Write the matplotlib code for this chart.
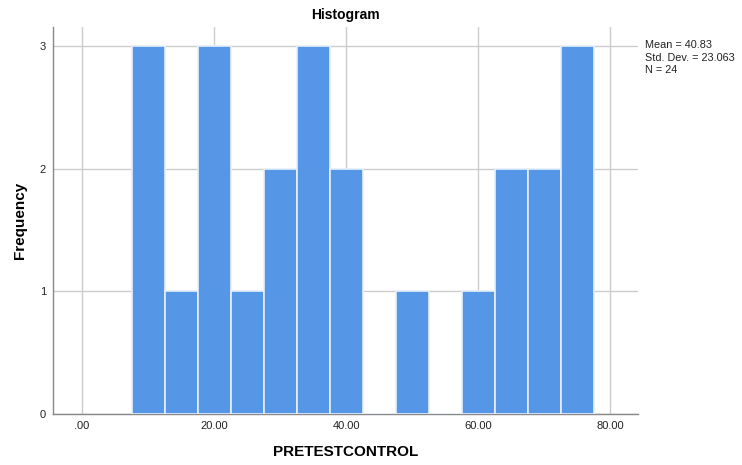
import matplotlib
matplotlib.use("Agg")
import matplotlib.pyplot as plt

plt.rcParams["font.family"] = ["Liberation Sans", "DejaVu Sans"]

# histogram bins (width 5) and counts
bin_edges = [7.5, 12.5, 17.5, 22.5, 27.5, 32.5, 37.5, 42.5,
             47.5, 52.5, 57.5, 62.5, 67.5, 72.5, 77.5]
counts = [3, 1, 3, 1, 2, 3, 2, 0, 1, 0, 1, 2, 2, 3]
x_ticks = [0, 20, 40, 60, 80]
x_tick_labels = [".00", "20.00", "40.00", "60.00", "80.00"]
y_ticks = [0, 1, 2, 3]
stats_text = "Mean = 40.83\nStd. Dev. = 23.063\nN = 24"

fig = plt.figure(figsize=(7.42, 4.65), dpi=100, facecolor="white")
ax = fig.add_axes([0.0714, 0.1097, 0.7884, 0.8323])

centers = [(a + b) / 2 for a, b in zip(bin_edges[:-1], bin_edges[1:])]
ax.hist(centers, bins=bin_edges, weights=counts, color="#5596e6",
        edgecolor="#e6f0fb", linewidth=1.2, zorder=3)

ax.set_xlim(-4.4, 84.2)
ax.set_ylim(0, 3.155)
ax.set_xticks(x_ticks)
ax.set_xticklabels(x_tick_labels)
ax.set_yticks(y_ticks)

ax.grid(True, color="#cccccc", linewidth=1.0, zorder=0)
ax.set_axisbelow(True)
for s in ["top", "right"]:
    ax.spines[s].set_visible(False)
for s in ["left", "bottom"]:
    ax.spines[s].set_color("#888888")
    ax.spines[s].set_linewidth(1.0)
ax.tick_params(length=0, labelsize=8, colors="#222222")
ax.tick_params(axis="x", pad=5)
ax.tick_params(axis="y", pad=5)

ax.set_title("Histogram", fontsize=10, fontweight="bold", pad=6)
ax.set_xlabel("PRETESTCONTROL", fontsize=11, fontweight="bold", labelpad=10)
ax.set_ylabel("Frequency", fontsize=11, fontweight="bold", labelpad=9)

fig.text(0.869, 0.913, stats_text, fontsize=7.8, va="top", ha="left",
         linespacing=1.3, color="#222222")

fig.savefig("out.png", dpi=100)
